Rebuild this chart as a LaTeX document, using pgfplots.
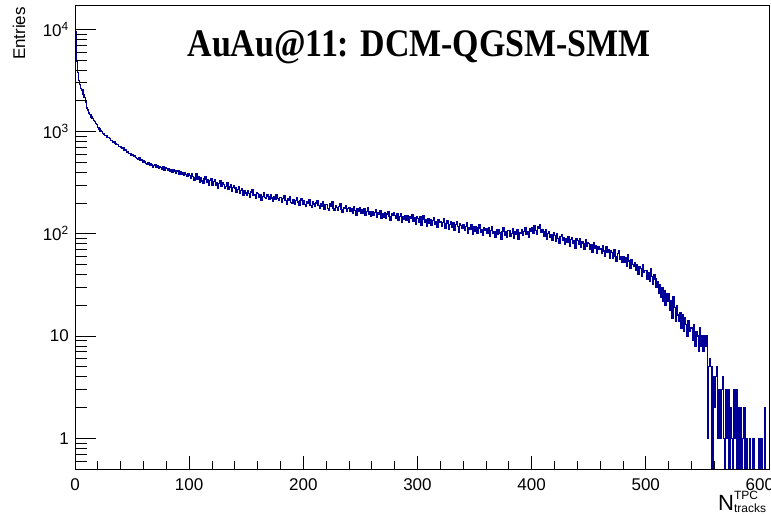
\documentclass[border=0pt]{standalone}
\usepackage{fontspec}
\setmainfont{Liberation Sans}
\newfontfamily\titlefont{Liberation Serif}
\usepackage{graphicx}
\usepackage{pgfplots}
\pgfplotsset{compat=1.18}
\definecolor{rootblue}{RGB}{0,0,153}
\begin{document}
\begin{tikzpicture}
\pgfplotsset{every axis/.append style={scale only axis, width=694pt, height=464pt,
  xmin=0, xmax=608, ymin=0.5, ymax=17300, ymode=log, at={(0,0)}, anchor=south west,
  axis line style={line width=0.8pt}, tick style={line width=0.8pt, black}, tick align=inside}}
\begin{axis}[xtick={0,100,...,600}, xticklabels={0,100,200,300,400,500,600},
  minor x tick num=4, ytick=\empty, yminorticks=false,
  major tick length=13pt, minor tick length=8pt, xtick pos=left,
  xticklabel style={font=\fontsize{17}{17}\selectfont, inner sep=0pt, anchor=north, yshift=-9pt},
  clip=true]
\addplot[const plot mark left, color=rootblue, line width=1.3pt, mark=none] coordinates {
(0,9500)(1,4900)(2,3800)(3,3150)(4,2900)(5,2650)(6,2550)(7,2300)(8,2150)(9,1950)
(10,1700)(11,1630)(12,1520)(13,1470)(14,1390)(15,1350)(16,1290)(17,1260)(18,1190)(19,1170)
(20,1100)(21,1060)(22,1010)(23,1000)(24,960)(25,945)(26,920)(27,912)(28,880)(29,872)
(30,850)(31,815)(32,812)(33,780)(34,790)(35,760)(36,745)(37,750)(38,712)(39,718)
(40,706)(41,680)(42,690)(43,652)(44,660)(45,628)(46,640)(47,606)(48,612)(49,584)
(50,598)(51,566)(52,582)(53,560)(54,548)(55,534)(56,552)(57,518)(58,532)(59,500)
(60,516)(61,504)(62,490)(63,474)(64,496)(65,462)(66,482)(67,470)(68,448)(69,466)
(70,476)(71,450)(72,462)(73,436)(74,458)(75,444)(76,426)(77,450)(78,422)(79,440)
(80,438)(81,414)(82,432)(83,404)(84,426)(85,398)(86,420)(87,412)(88,390)(89,414)
(90,410)(91,384)(92,404)(93,378)(94,396)(95,370)(96,392)(97,380)(98,362)(99,386)
(100,372)(101,348)(102,390)(103,366)(104,330)(105,356)(106,384)(107,340)(108,362)(109,318)
(110,352)(111,328)(112,310)(113,344)(114,366)(115,322)(116,338)(117,300)(118,330)(119,348)
(120,300)(121,326)(122,342)(123,296)(124,318)(125,280)(126,310)(127,332)(128,292)(129,316)
(130,304)(131,276)(132,292)(133,318)(134,270)(135,286)(136,300)(137,258)(138,282)(139,296)
(140,280)(141,254)(142,272)(143,290)(144,246)(145,264)(146,276)(147,240)(148,262)(149,250)
(150,236)(151,262)(152,248)(153,226)(154,256)(155,270)(156,238)(157,244)(158,222)(159,252)
(160,248)(161,226)(162,240)(163,214)(164,232)(165,252)(166,228)(167,220)(168,244)(169,230)
(170,218)(171,240)(172,224)(173,206)(174,232)(175,216)(176,244)(177,222)(178,210)(179,228)
(180,226)(181,204)(182,220)(183,236)(184,210)(185,196)(186,222)(187,214)(188,230)(189,202)
(190,200)(191,218)(192,192)(193,212)(194,226)(195,204)(196,188)(197,210)(198,220)(199,196)
(200,212)(201,194)(202,186)(203,208)(204,198)(205,218)(206,190)(207,180)(208,204)(209,196)
(210,184)(211,200)(212,210)(213,188)(214,176)(215,196)(216,186)(217,204)(218,172)(219,194)
(220,192)(221,178)(222,170)(223,196)(224,184)(225,204)(226,176)(227,168)(228,190)(229,180)
(230,170)(231,186)(232,196)(233,174)(234,162)(235,182)(236,176)(237,190)(238,164)(239,178)
(240,180)(241,164)(242,176)(243,158)(244,184)(245,170)(246,152)(247,176)(248,166)(249,182)
(250,158)(251,172)(252,160)(253,178)(254,150)(255,166)(256,180)(257,156)(258,164)(259,148)
(260,166)(261,150)(262,162)(263,172)(264,146)(265,160)(266,154)(267,170)(268,142)(269,158)
(270,146)(271,160)(272,140)(273,156)(274,164)(275,148)(276,136)(277,158)(278,150)(279,162)
(280,152)(281,140)(282,158)(283,134)(284,148)(285,156)(286,130)(287,146)(288,138)(289,152)
(290,136)(291,150)(292,128)(293,146)(294,140)(295,154)(296,132)(297,144)(298,124)(299,148)
(300,142)(301,130)(302,146)(303,122)(304,138)(305,150)(306,128)(307,136)(308,118)(309,142)
(310,126)(311,138)(312,120)(313,134)(314,144)(315,124)(316,132)(317,116)(318,136)(319,128)
(320,132)(321,118)(322,128)(323,140)(324,114)(325,126)(326,134)(327,110)(328,124)(329,130)
(330,116)(331,128)(332,108)(333,124)(334,132)(335,118)(336,104)(337,126)(338,120)(339,112)
(340,122)(341,108)(342,118)(343,128)(344,102)(345,116)(346,110)(347,124)(348,98)(349,118)
(350,106)(351,118)(352,100)(353,114)(354,124)(355,104)(356,110)(357,96)(358,116)(359,108)
(360,112)(361,100)(362,116)(363,94)(364,108)(365,118)(366,102)(367,106)(368,92)(369,110)
(370,98)(371,110)(372,102)(373,88)(374,106)(375,114)(376,96)(377,104)(378,92)(379,108)
(380,108)(381,94)(382,100)(383,112)(384,90)(385,104)(386,98)(387,110)(388,88)(389,102)
(390,100)(391,110)(392,96)(393,106)(394,116)(395,98)(396,104)(397,92)(398,112)(399,106)
(400,114)(401,102)(402,120)(403,108)(404,98)(405,118)(406,112)(407,124)(408,104)(409,110)
(410,104)(411,94)(412,110)(413,88)(414,100)(415,106)(416,92)(417,98)(418,86)(419,102)
(420,96)(421,84)(422,100)(423,90)(424,80)(425,94)(426,98)(427,86)(428,92)(429,78)
(430,90)(431,82)(432,94)(433,76)(434,88)(435,92)(436,80)(437,86)(438,72)(439,90)
(440,86)(441,78)(442,90)(443,74)(444,84)(445,80)(446,70)(447,88)(448,76)(449,82)
(450,80)(451,70)(452,78)(453,66)(454,82)(455,72)(456,76)(457,64)(458,74)(459,70)
(460,72)(461,64)(462,76)(463,68)(464,60)(465,74)(466,66)(467,70)(468,58)(469,68)
(470,66)(471,58)(472,70)(473,60)(474,54)(475,64)(476,68)(477,56)(478,60)(479,52)
(480,60)(481,52)(482,58)(483,48)(484,62)(485,54)(486,46)(487,56)(488,50)(489,48)
(490,52)(491,44)(492,50)(493,40)(494,48)(495,46)(496,38)(497,50)(498,42)(499,44)
(500,44)(501,36)(502,42)(503,34)(504,46)(505,38)(506,32)(507,40)(508,36)(509,30)
(510,34)(511,26)(512,32)(513,24)(514,30)(515,22)(516,28)(517,20)(518,26)(519,22)
(520,26)(521,18)(522,22)(523,15)(524,24)(525,19)(526,14)(527,20)(528,16)(529,14)
(530,17)(531,12)(532,16)(533,11)(534,15)(535,13)(536,10)(537,14)(538,11)(539,12)
(540,12)(541,9)(542,13)(543,8)(544,11)(545,10)(546,7)(547,12)(548,8)(549,10)
(550,7)(551,10)(552,8)(553,10)(554,1)(555,5)(556,6)(557,5)(558,0.01)(559,4)
(560,2)(561,4)(562,5)(563,1)(564,3)(565,1)(566,3)(567,4)(568,1)(569,0.01)
(570,3)(571,1)(572,3)(573,0.01)(574,2)(575,1)(576,0.01)(577,3)(578,1)(579,3)
(580,0.01)(581,2)(582,0.01)(583,2)(584,0.01)(585,1)(586,2)(587,0.01)(588,1)(589,0.01)
(590,0.01)(591,1)(592,0.01)(593,0.01)(594,1)(595,0.01)(596,0.01)(597,0.01)(598,0.01)(599,1)
(600,0.01)(601,1)(602,0.01)(603,0.01)(604,2)(605,0.01)(606,0.01)(607,0.01)(608,0.01)
};
\end{axis}
\begin{axis}[xtick=\empty, xminorticks=false,
  ytick={1,10,100,1000,10000},
  yticklabels={1,10,10\textsuperscript{2},10\textsuperscript{3},10\textsuperscript{4}},
  minor ytick={0.6,0.7,0.8,0.9,2,3,4,5,6,7,8,9,20,30,40,50,60,70,80,90,200,300,400,500,600,700,800,900,2000,3000,4000,5000,6000,7000,8000,9000},
  major tick length=21pt, minor tick length=12pt, ytick pos=left,
  yticklabel style={font=\fontsize{17}{17}\selectfont, inner sep=0pt, anchor=east, xshift=-6pt},
  clip=false]
\node[anchor=base, inner sep=0pt] at (rel axis cs:0.496,0.890)
  {\scalebox{0.87}[1]{\titlefont\bfseries\fontsize{39}{39}\selectfont AuAu@11: DCM-QGSM-SMM}};
\node[anchor=base east, rotate=90, inner sep=0pt] at (rel axis cs:-0.072,0.996)
  {\fontsize{17}{17}\selectfont Entries};
\node[anchor=base west, inner sep=0pt] at (rel axis cs:0.9265,-0.0884)
  {\fontsize{22}{22}\selectfont N\fontsize{12}{12}\selectfont\rlap{\raisebox{10.5pt}{TPC}}\raisebox{-2.5pt}{tracks}};
\end{axis}
\pgfresetboundingbox
\path[use as bounding box] (-75pt,-47pt) rectangle (696pt,469pt);
\end{tikzpicture}
\end{document}
